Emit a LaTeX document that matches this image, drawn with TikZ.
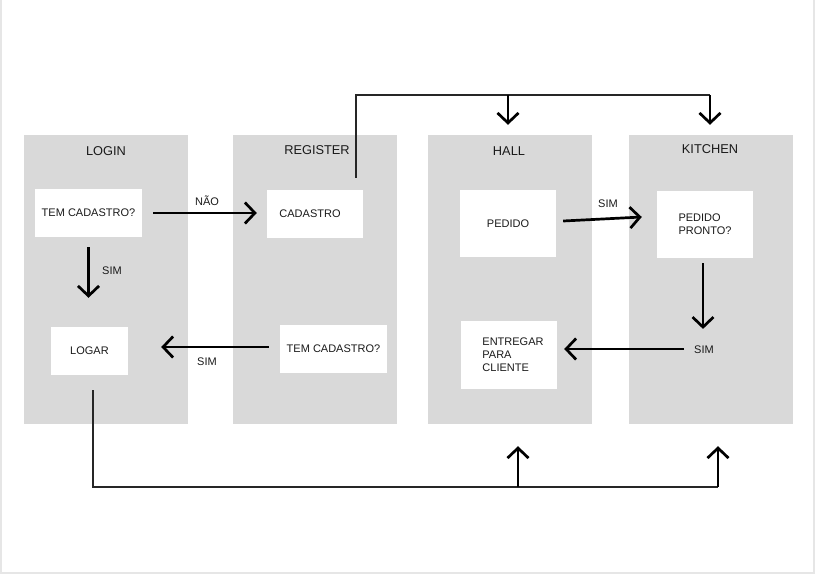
\documentclass[tikz,border=0pt]{standalone}
\usepackage{fontspec}
\setmainfont{Liberation Sans}
\usetikzlibrary{arrows.meta,calc}
\definecolor{panelgray}{HTML}{D9D9D9}
\definecolor{framegray}{HTML}{E6E6E6}
\definecolor{ink}{HTML}{1A1A1A}
\begin{document}
\begin{tikzpicture}[x=1pt,y=-1pt,
  panel/.style={fill=panelgray,draw=none,minimum width=164pt,minimum height=289pt,inner sep=0pt},
  title/.style={text=ink,font=\fontsize{12.8}{14}\selectfont,inner sep=0pt},
  whitebox/.style={fill=white,draw=none,text=ink,font=\fontsize{11}{13}\selectfont,inner sep=0pt,align=left},
  lbl/.style={text=ink,font=\fontsize{11}{13}\selectfont,inner sep=0pt},
  flow/.style={draw=black,line width=2.7pt,-{Straight Barb[length=10pt,width=21pt,line width=2.7pt]}},
  thin/.style={draw=black!85,line width=1.2pt}
]
\useasboundingbox (0,0) rectangle (815,574);
% frame
\fill[framegray] (0,0) rectangle (1.5,574);
\fill[framegray] (813,0) rectangle (815,574);
\fill[framegray] (0,572) rectangle (815,574);

% panels
\node[panel] (login) at (106,279.5) {};
\node[panel] (register) at (315,279.5) {};
\node[panel] (hall) at (510,279.5) {};
\node[panel] (kitchen) at (711,279.5) {};

\node[title] (tlogin) at (106,151) {LOGIN};
\node[title] (tregister) at (317,150) {REGISTER};
\node[title] (thall) at (509,151) {HALL};
\node[title] (tkitchen) at (710,149) {KITCHEN};

% white boxes
\node[whitebox,minimum width=107pt,minimum height=48pt] (tc1) at (88.5,213) {TEM CADASTRO?};
\node[whitebox,minimum width=96pt,minimum height=48pt] (cad) at (315,214) {\raisebox{-4pt}{\hspace*{-10pt}CADASTRO}};
\node[whitebox,minimum width=96pt,minimum height=67pt] (pedido) at (508,223.5) {\raisebox{-2pt}{PEDIDO}};
\node[whitebox,minimum width=96pt,minimum height=67pt] (pronto) at (705,224.5) {PEDIDO\\PRONTO?};
\node[whitebox,minimum width=77pt,minimum height=48pt] (logar) at (89.5,351) {LOGAR};
\node[whitebox,minimum width=107pt,minimum height=48pt] (tc2) at (333.5,349) {\raisebox{-3pt}{TEM CADASTRO?}};
\node[whitebox,minimum width=96pt,minimum height=68pt] (entregar) at (509,355) {\hspace*{8pt}ENTREGAR\\\hspace*{8pt}PARA\\\hspace*{8pt}CLIENTE};

% labels
\node[lbl] (nao) at (207,201) {NÃO};
\node[lbl] (sim1) at (112,271) {SIM};
\node[lbl] (sim2) at (207,362) {SIM};
\node[lbl] (sim3) at (608,204) {SIM};
\node[lbl] (sim4) at (704,350) {SIM};

% main connectors
\draw[flow,shorten <=11pt,shorten >=10pt] (tc1.east) -- (tc1.east -| cad.west);
\draw[flow,shorten <=10pt,shorten >=29pt] (tc1.south) -- (tc1.south |- logar.north);
\draw[flow,shorten <=11pt,shorten >=33pt] ($(tc2.west)+(0,-2)$) -- ($(tc2.west -| logar.east)+(0,-2)$);
\draw[flow] ($(pedido.east)+(7,-2.5)$) -- ($(pronto.west)+(-15,-7.5)$);
\draw[flow,shorten <=5pt] ($(pronto.south)+(-2,0)$) -- ($(sim4.north)+(-1,-17)$);
\draw[flow,shorten <=10pt,shorten >=7pt] ($(sim4.west)+(0,-1)$) -- ($(entregar.east |- sim4.west)+(0,-1)$);

% top distribution line
\coordinate (topL) at (356,95);
\coordinate (topR) at (710,95);
\coordinate (topH) at (508,95);
\draw[thin] (register.north -| topL) ++(0,43) -- (topL) -- (topR);
\draw[flow,line width=2.5pt] (topH) -- ($(topH |- hall.north)+(0,-10)$);
\draw[flow,line width=2.5pt] (topR) -- ($(topR |- kitchen.north)+(0,-10)$);

% bottom distribution line
\coordinate (botL) at (93,487);
\coordinate (botH) at (518,487);
\coordinate (botK) at (718,487);
\draw[thin] ($(botL |- logar.south)+(0,15)$) -- (botL) -- (botK);
\draw[flow,line width=2.5pt] (botH) -- ($(botH |- hall.south)+(0,22)$);
\draw[flow,line width=2.5pt] (botK) -- ($(botK |- kitchen.south)+(0,22)$);
\end{tikzpicture}
\end{document}
